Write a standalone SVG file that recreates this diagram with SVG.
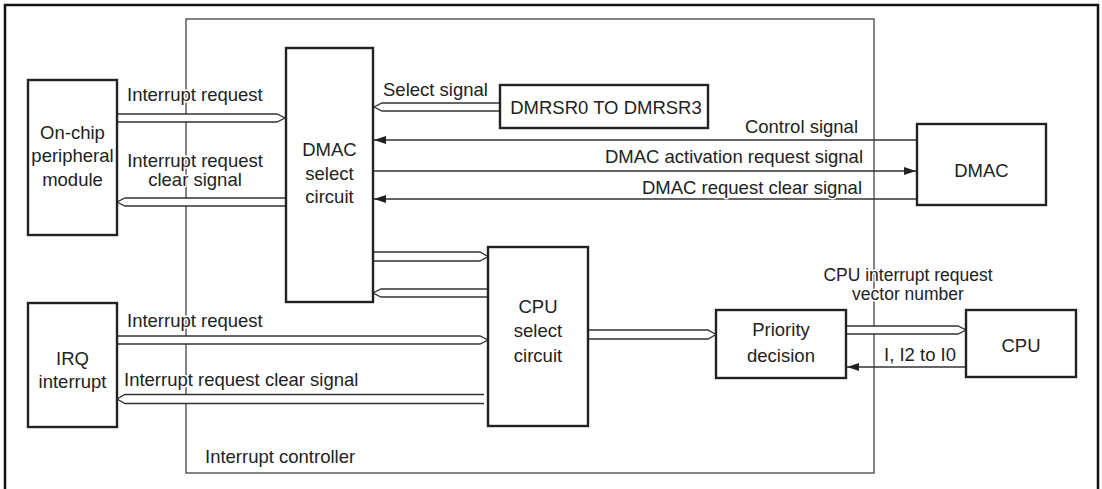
<svg xmlns="http://www.w3.org/2000/svg" width="1102" height="489" viewBox="0 0 1102 489">
<defs>
<marker id="ah" markerWidth="12" markerHeight="8" refX="12" refY="4" orient="auto" markerUnits="userSpaceOnUse">
<path d="M0,0 L12,4 L0,8 Z" fill="#222"/>
</marker>
<style>
.box{fill:#fff;stroke:#222;stroke-width:2.4}
.frame{fill:none;stroke:#444;stroke-width:1.3}
.line{fill:none;stroke:#333;stroke-width:1.3}
.bus{fill:#fff;stroke:#333;stroke-width:1.3;stroke-linejoin:miter}
text{font-family:"Liberation Sans",Arial,sans-serif;font-size:18.5px;fill:#222}
.lbl{paint-order:stroke;stroke:#fff;stroke-width:3px;stroke-linejoin:round}
.sm{font-size:17.5px}
.c{text-anchor:middle}
.e{text-anchor:end}
</style>
</defs>
<rect width="1102" height="489" fill="#fff"/>
<path d="M5,489 V5 H1098 V489" fill="none" stroke="#111" stroke-width="2.5"/>
<g id="interrupt-controller">
<rect class="frame" x="186" y="19" width="688" height="454"/>
</g>
<g id="connectors">
<path class="bus" d="M117,114 H277 L285,118 L277,122 H117"/>
<path class="bus" d="M286,198 H125 L117,202 L125,206 H286"/>
<path class="bus" d="M500,103 H382 L374,107 L382,111 H500"/>
<line class="line" x1="917" y1="140" x2="374" y2="140" marker-end="url(#ah)"/>
<line class="line" x1="373" y1="171" x2="916" y2="171" marker-end="url(#ah)"/>
<line class="line" x1="917" y1="199" x2="374" y2="199" marker-end="url(#ah)"/>
<path class="bus" d="M373,252 H480 L488,256.5 L480,261 H373"/>
<path class="bus" d="M488,289 H381 L373,293 L381,297 H488"/>
<path class="bus" d="M117,336 H480 L488,340 L480,344 H117"/>
<path class="bus" d="M484,394.5 H125 L117,399 L125,403.5 H484"/>
<path class="bus" d="M588,330 H708 L716,334.5 L708,339 H588"/>
<path class="bus" d="M846,326 H958 L966,330 L958,334 H846"/>
<line class="line" x1="966" y1="367" x2="847" y2="367" marker-end="url(#ah)"/>
</g>
<g id="labels">
<text class="lbl" x="127" y="101">Interrupt request</text>
<text class="lbl c" x="195" y="167">Interrupt request</text>
<text class="lbl c" x="195" y="186">clear signal</text>
<text class="lbl" x="383" y="96">Select signal</text>
<text class="lbl e" x="858" y="133">Control signal</text>
<text class="lbl e" x="863" y="163">DMAC activation request signal</text>
<text class="lbl e" x="862" y="194">DMAC request clear signal</text>
<text class="lbl" x="127" y="327">Interrupt request</text>
<text class="lbl" x="124" y="386">Interrupt request clear signal</text>
<text class="lbl c sm" x="908" y="281">CPU interrupt request</text>
<text class="lbl c sm" x="908" y="300">vector number</text>
<text class="lbl" x="884" y="361">I, I2 to I0</text>
<text class="lbl" x="205" y="463">Interrupt controller</text>
</g>
<g id="on-chip-peripheral-module">
<rect class="box" x="28" y="80" width="89" height="155"/>
<text class="c" x="72.5" y="139">On-chip</text>
<text class="c" x="72.5" y="162">peripheral</text>
<text class="c" x="72.5" y="186">module</text>
</g>
<g id="dmac-select-circuit">
<rect class="box" x="286" y="48" width="87" height="254"/>
<text class="c" x="329.5" y="156">DMAC</text>
<text class="c" x="329.5" y="180">select</text>
<text class="c" x="329.5" y="203">circuit</text>
</g>
<g id="dmrsr">
<rect class="box" x="500" y="85" width="208" height="43"/>
<text class="c" x="606" y="114">DMRSR0 TO DMRSR3</text>
</g>
<g id="dmac">
<rect class="box" x="917" y="124" width="129" height="81"/>
<text class="c" x="981.5" y="177">DMAC</text>
</g>
<g id="irq-interrupt">
<rect class="box" x="28" y="303" width="89" height="124"/>
<text class="c" x="72.5" y="365">IRQ</text>
<text class="c" x="72.5" y="388">interrupt</text>
</g>
<g id="cpu-select-circuit">
<rect class="box" x="488" y="247" width="100" height="179"/>
<text class="c" x="538" y="313">CPU</text>
<text class="c" x="538" y="337">select</text>
<text class="c" x="538" y="362">circuit</text>
</g>
<g id="priority-decision">
<rect class="box" x="716" y="310" width="130" height="68"/>
<text class="c" x="781" y="336">Priority</text>
<text class="c" x="781" y="362">decision</text>
</g>
<g id="cpu">
<rect class="box" x="966" y="310" width="110" height="67"/>
<text class="c" x="1021" y="352">CPU</text>
</g>
</svg>
